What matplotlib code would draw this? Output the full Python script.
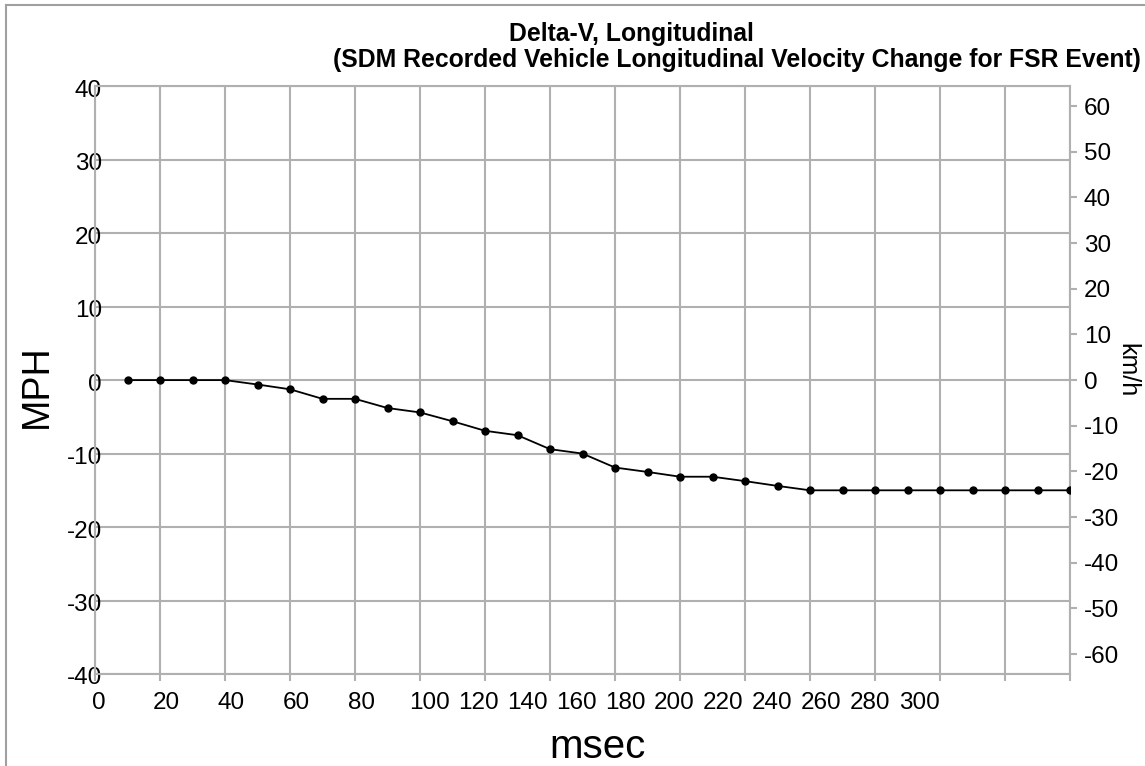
import numpy as np
import matplotlib
matplotlib.use("Agg")
import matplotlib.pyplot as plt
from matplotlib.lines import Line2D
from matplotlib.transforms import ScaledTranslation

plt.rcParams['font.family'] = ['Liberation Sans', 'DejaVu Sans']
plt.rcParams['axes.unicode_minus'] = False

# ── Data ─────────────────────────────────────────────────────────────────────
msec = [10, 20, 30, 40, 50, 60, 70, 80, 90, 100,
        110, 120, 130, 140, 150, 160, 170, 180, 190, 200,
        210, 220, 230, 240, 250, 260, 270, 280, 290, 300]
delta_v_mph = [0.0, 0.0, 0.0, 0.0, -0.6, -1.25, -2.55, -2.55, -3.8, -4.4,
               -5.6, -6.9, -7.5, -9.4, -10.0, -11.9, -12.5, -13.15, -13.15, -13.75,
               -14.4, -15.0, -15.0, -15.0, -15.0, -15.0, -15.0, -15.0, -15.0, -15.0]

x_grid = np.arange(0, 301, 20)
# the source chart packs its x labels, so they drift away from the gridlines
x_labels = ['0', '20', '40', '60', '80', '100', '120', '140', '160',
            '180', '200', '220', '240', '260', '280', '300']
x_label_pos = [1.2, 21.8, 42.0, 62.0, 82.0, 103.0, 117.9, 133.0, 148.2,
               163.3, 178.2, 193.3, 208.3, 223.4, 238.5, 253.7]
mph_ticks = np.arange(-40, 41, 10)
kmh_ticks = np.arange(-60, 61, 10)
MPH_TO_KMH = 1.609344

GRID = '#b0b0b0'

fig = plt.figure(figsize=(11.45, 7.66), dpi=100)
W, H = 1145, 766
ax = fig.add_axes([95 / W, 1 - 674 / H, (1070 - 95) / W, (674 - 86.2) / H])

ax.plot(msec, delta_v_mph, color='black', lw=1.3, marker='o', ms=5, zorder=3)

ax.set_xlim(0, 300)
ax.set_ylim(-40, 40)
ax.set_xticks(x_grid)
ax.set_xticklabels([])
ax.set_xticks(x_label_pos, minor=True)
ax.set_xticklabels(x_labels, minor=True)
ax.tick_params(axis='x', which='major', length=5, width=1.5, color=GRID)
ax.tick_params(axis='x', which='minor', length=0, pad=13, labelsize=17.5)
ax.set_yticks(mph_ticks)
ax.tick_params(axis='y', length=0, pad=-5, labelsize=17.5)
for lab in ax.get_yticklabels():
    lab.set_transform(lab.get_transform() + ScaledTranslation(0, -0.02, fig.dpi_scale_trans))

ax.grid(True, which='major', color=GRID, lw=1.5)
ax.set_axisbelow(True)
for s in ax.spines.values():
    s.set_color(GRID)
    s.set_linewidth(1.5)

# right axis in km/h
ax2 = ax.twinx()
ax2.set_ylim(-40 * MPH_TO_KMH, 40 * MPH_TO_KMH)
ax2.set_yticks(kmh_ticks)
ax2.tick_params(axis='y', length=5, width=1.5, color=GRID, pad=5, labelsize=17.5)
for s in ax2.spines.values():
    s.set_visible(False)

# titles and axis labels
fig.text(631 / W, 1 - 41.5 / H, 'Delta-V, Longitudinal', ha='center', va='baseline',
         fontsize=17.8, fontweight='bold')
fig.text(737 / W, 1 - 67.5 / H,
         '(SDM Recorded Vehicle Longitudinal Velocity Change for FSR Event)',
         ha='center', va='baseline', fontsize=17.8, fontweight='bold')
fig.text(37 / W, 1 - 386 / H, 'MPH', rotation=90, ha='center', va='center', fontsize=27)
fig.text(597 / W, 1 - 758 / H, 'msec', ha='center', va='baseline', fontsize=29)
fig.text(1127 / W, 1 - 370 / H, 'km/h', rotation=-90, ha='center', va='center', fontsize=18)

# frame of the source image (left and top edges only)
fig.add_artist(Line2D([6 / W, 6 / W], [0, 1 - 5 / H], color='#a0a0a0', lw=1.5))
fig.add_artist(Line2D([6 / W, 1], [1 - 5 / H, 1 - 5 / H], color='#a0a0a0', lw=1.5))

fig.savefig('out.png', dpi=100)
